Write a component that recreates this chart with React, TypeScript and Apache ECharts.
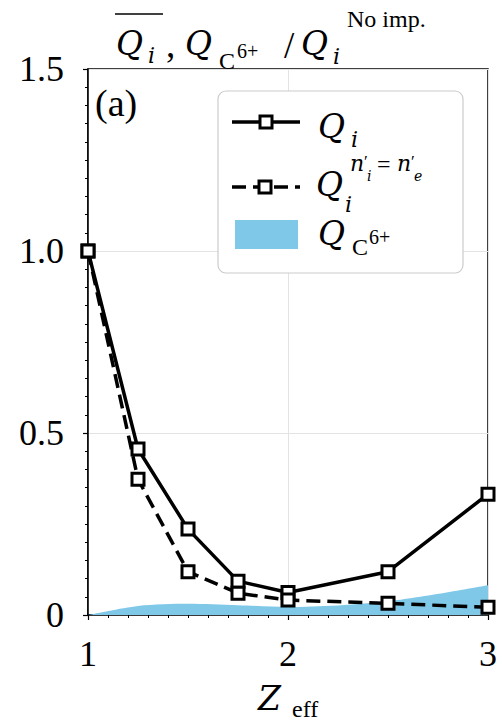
import React, { useEffect, useRef } from "react";
import * as echarts from "echarts";

const zValues = [1, 1.25, 1.5, 1.75, 2, 2.5, 3];
const qI = [1.0, 0.456, 0.236, 0.093, 0.062, 0.119, 0.332];
const qIEqual = [1.0, 0.373, 0.119, 0.06, 0.041, 0.032, 0.021];
const qC6 = [0, 0.025, 0.031, 0.027, 0.022, 0.038, 0.082];
const yTickLabels = ["0", "0.5", "1.0", "1.5"];
const xTickLabels = ["1", "2", "3"];

const SERIF = "'Liberation Serif', 'DejaVu Serif', serif";
const ISERIF = "'DejaVu Serif', 'Liberation Serif', serif";
const BLUE = "#80C8E8";

function txt(text: string, x: number, y: number, size: number, italic = false, extra: any = {}) {
  return {
    type: "text",
    x,
    y,
    z: 100,
    style: {
      text,
      fontFamily: italic ? ISERIF : SERIF,
      fontSize: size,
      fontStyle: italic ? "italic" : "normal",
      fill: "#000",
      align: "left",
      verticalAlign: "middle",
      ...extra,
    },
  };
}

export default function App() {
  const ref = useRef<HTMLDivElement>(null);
  useEffect(() => {
    if (!ref.current) return;
    const chart = echarts.init(ref.current, undefined, { renderer: "svg" });
    const pair = (ys: number[]) => zValues.map((z, i) => [z, ys[i]]);
    const markerSize = 12;
    const graphic: any[] = [
      // title
      txt("Q", 116, 43, 33, true),
      txt("i", 148, 55, 22, true),
      txt(",", 166, 44, 37),
      txt("Q", 185, 43, 33, true),
      txt("C", 219, 61, 24),
      txt("6+", 237, 51, 20),
      txt("/", 284, 45, 37),
      txt("Q", 301, 43, 33, true),
      txt("i", 333, 56, 22, true),
      txt("No imp.", 347, 19, 24),
      { type: "line", z: 100, shape: { x1: 115, y1: 14, x2: 163, y2: 14 }, style: { stroke: "#000", lineWidth: 1.5 } },
      // (a)
      txt("(a)", 95, 103, 38),
      // x axis name
      txt("Z", 258, 698, 33, true),
      txt("eff", 292, 709, 24),
      // legend box
      {
        type: "rect",
        z: 99,
        shape: { x: 218, y: 91, width: 245, height: 182, r: 8 },
        style: { fill: "#fff", stroke: "#cccccc", lineWidth: 1.2 },
      },
      { type: "line", z: 100, shape: { x1: 232, y1: 122, x2: 300, y2: 122 }, style: { stroke: "#000", lineWidth: 3.5 } },
      {
        type: "rect",
        z: 101,
        shape: { x: 266 - markerSize / 2, y: 122 - markerSize / 2, width: markerSize, height: markerSize },
        style: { fill: "#fff", stroke: "#000", lineWidth: 3 },
      },
      txt("Q", 318, 126, 33, true),
      txt("i", 351, 139, 22, true),
      {
        type: "line",
        z: 100,
        shape: { x1: 232, y1: 187, x2: 300, y2: 187 },
        style: { stroke: "#000", lineWidth: 3.5, lineDash: [14, 7] },
      },
      {
        type: "rect",
        z: 101,
        shape: { x: 265 - markerSize / 2, y: 187 - markerSize / 2, width: markerSize, height: markerSize },
        style: { fill: "#fff", stroke: "#000", lineWidth: 3 },
      },
      txt("Q", 316, 184, 33, true),
      txt("i", 345, 204, 22, true),
      txt("n", 350, 163, 22, true),
      txt("′", 364, 161, 17),
      txt("i", 367, 176, 14, true),
      txt("=", 377, 164, 24),
      txt("n", 397, 163, 22, true),
      txt("′", 411, 161, 17),
      txt("e", 414, 176, 14, true),
      { type: "rect", z: 100, shape: { x: 235, y: 220, width: 63, height: 29 }, style: { fill: BLUE } },
      txt("Q", 318, 233, 33, true),
      txt("C", 352, 247, 24),
      txt("6+", 369, 237, 20),
    ];

    chart.setOption({
      animation: false,
      backgroundColor: "#fff",
      grid: {
        left: 88,
        top: 69,
        right: 14,
        bottom: 106,
        show: true,
        borderColor: "#000",
        borderWidth: 1.5,
        backgroundColor: "transparent",
      },
      xAxis: {
        type: "value",
        min: 1,
        max: 3,
        interval: 1,
        axisLine: { show: true, onZero: false, lineStyle: { color: "#000", width: 1.5 } },
        axisTick: { show: true, length: 5, lineStyle: { color: "#000", width: 1.2 } },
        minorTick: { show: true, splitNumber: 10, length: 3, lineStyle: { color: "#000", width: 1 } },
        splitLine: { show: true, lineStyle: { color: "#e3e3e3", width: 1 } },
        axisLabel: {
          margin: 21,
          color: "#000",
          fontFamily: SERIF,
          fontSize: 36,
          formatter: (v: number) => xTickLabels[Math.round(v) - 1] ?? "",
        },
      },
      yAxis: {
        type: "value",
        min: 0,
        max: 1.5,
        interval: 0.5,
        axisLine: { show: true, onZero: false, lineStyle: { color: "#000", width: 1.5 } },
        axisTick: { show: true, length: 5, lineStyle: { color: "#000", width: 1.2 } },
        minorTick: { show: true, splitNumber: 10, length: 3, lineStyle: { color: "#000", width: 1 } },
        splitLine: { show: true, lineStyle: { color: "#e3e3e3", width: 1 } },
        axisLabel: {
          margin: 24,
          color: "#000",
          fontFamily: SERIF,
          fontSize: 36,
          formatter: (v: number) => yTickLabels[Math.round(v / 0.5)] ?? "",
        },
      },
      series: [
        {
          name: "QC6",
          type: "line",
          data: pair(qC6),
          symbol: "none",
          smooth: 0.3,
          lineStyle: { width: 0 },
          areaStyle: { color: BLUE, opacity: 1 },
          z: 1,
          clip: true,
        },
        {
          name: "Qi",
          type: "line",
          data: pair(qI),
          symbol: "rect",
          symbolSize: markerSize,
          lineStyle: { color: "#000", width: 3.5 },
          itemStyle: { color: "#fff", borderColor: "#000", borderWidth: 3 },
          z: 3,
          clip: false,
        },
        {
          name: "QiEqual",
          type: "line",
          data: pair(qIEqual),
          symbol: "rect",
          symbolSize: markerSize,
          lineStyle: { color: "#000", width: 3.5, type: [14, 7] },
          itemStyle: { color: "#fff", borderColor: "#000", borderWidth: 3 },
          z: 4,
          clip: false,
        },
      ],
      graphic,
    });
    return () => chart.dispose();
  }, []);
  return <div ref={ref} style={{ width: 502, height: 721, position: "absolute", left: 0, top: 0 }} />;
}
